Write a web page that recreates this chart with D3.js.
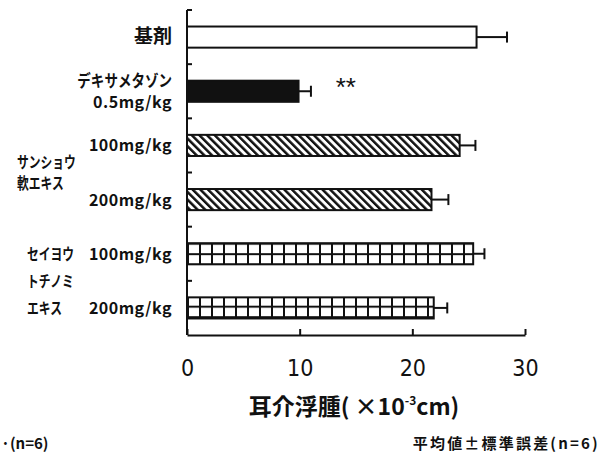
<!DOCTYPE html>
<html>
<head>
<meta charset="utf-8">
<script src="https://cdn.jsdelivr.net/npm/d3@7"></script>
<style>
  body { margin: 0; background: #fff; }
  text { fill: #111; }
  .jp { font-family: "Noto Sans CJK JP", sans-serif; font-weight: 700; }
  .num { font-family: "Liberation Sans Narrow", "DejaVu Sans Condensed", "Liberation Sans", sans-serif; }
</style>
</head>
<body>
<div id="main_svg"></div>
<script>
// data
var groups = ["vehicle", "dexa", "zan100", "zan200", "sei100", "sei200"];
var means = [25.7, 9.9, 24.2, 21.7, 25.4, 21.9];
var errors = [2.7, 1.1, 1.4, 1.5, 1.0, 1.2];
var doseLabels = [["基剤"], ["デキサメタゾン", "0.5mg/kg"], ["100mg/kg"], ["200mg/kg"], ["100mg/kg"], ["200mg/kg"]];
var groupLabels = [
    {from: "zan100", to: "zan200", lines: ["サンショウ", "軟エキス"]},
    {from: "sei100", to: "sei200", lines: ["セイヨウ", "トチノミ", "エキス"]}
];
var xTicks = [0, 10, 20, 30];
var sigGroup = "dexa", sigText = "**", sigAt = 13.2;
var footLeft = "·(n=6)";
var footRight = "平均値±標準誤差(n=6)";

// fill style per bar
var fills = ["#fff", "#111", "url(#hatch)", "url(#hatch)", "url(#grid)", "url(#grid)"];

// set the dimensions and margins of the graph
var margin = {top: 10, right: 83, bottom: 120, left: 187},
    width = 608 - margin.left - margin.right,
    height = 455 - margin.top - margin.bottom;

var x = d3.scaleLinear().domain([0, 30]).range([0, width]);
var y = d3.scaleBand().domain(groups).range([0, height]).paddingInner(0.61).paddingOuter(0.305);

var root = d3.select("#main_svg").append("svg")
    .attr("width", 608).attr("height", 455);

// patterns
var defs = root.append("defs");
var hatch = defs.append("pattern").attr("id", "hatch")
    .attr("patternUnits", "userSpaceOnUse").attr("width", 5.4).attr("height", 5.4)
    .attr("patternTransform", "rotate(-45)");
hatch.append("rect").attr("width", 5.4).attr("height", 5.4).attr("fill", "#fff");
hatch.append("rect").attr("width", 2.5).attr("height", 5.4).attr("fill", "#111");

var grid = defs.append("pattern").attr("id", "grid")
    .attr("patternUnits", "userSpaceOnUse").attr("width", 12).attr("height", 10.5)
    .attr("x", 0).attr("y", y("sei100") + margin.top);
grid.append("rect").attr("width", 12).attr("height", 10.5).attr("fill", "#fff");
grid.append("rect").attr("x", 0).attr("width", 2).attr("height", 10.5).attr("fill", "#111");
grid.append("rect").attr("y", 0).attr("width", 12).attr("height", 2).attr("fill", "#111");

var svg = root.append("g")
    .attr("transform", "translate(" + margin.left + "," + margin.top + ")");

// bars
svg.selectAll(".bar")
    .data(groups)
    .enter().append("rect")
    .attr("class", "bar")
    .attr("x", 0)
    .attr("y", function (d) { return y(d); })
    .attr("width", function (d, i) { return x(means[i]); })
    .attr("height", y.bandwidth())
    .attr("fill", function (d, i) { return fills[i]; })
    .attr("stroke", "#111")
    .attr("stroke-width", 2);

// error bars
var eb = svg.selectAll(".err").data(groups).enter().append("g").attr("class", "err")
    .attr("stroke", "#111").attr("stroke-width", 2);
eb.append("line")
    .attr("x1", function (d, i) { return x(means[i]); })
    .attr("x2", function (d, i) { return x(means[i] + errors[i]); })
    .attr("y1", function (d) { return y(d) + y.bandwidth() / 2; })
    .attr("y2", function (d) { return y(d) + y.bandwidth() / 2; });
eb.append("line")
    .attr("x1", function (d, i) { return x(means[i] + errors[i]); })
    .attr("x2", function (d, i) { return x(means[i] + errors[i]); })
    .attr("y1", function (d) { return y(d) + y.bandwidth() / 2 - 5.5; })
    .attr("y2", function (d) { return y(d) + y.bandwidth() / 2 + 5.5; });

// significance mark
svg.append("text")
    .attr("x", x(sigAt))
    .attr("y", y(sigGroup) + y.bandwidth() / 2 + 5)
    .attr("font-family", "Liberation Sans, sans-serif")
    .attr("font-size", 26)
    .text(sigText);

// y axis with inward ticks at band edges
var edges = groups.map(function (d) { return y(d) - y.step() * y.paddingInner() / 2; });
svg.append("line").attr("x1", 0).attr("x2", 0).attr("y1", 0).attr("y2", height)
    .attr("stroke", "#111").attr("stroke-width", 2);
svg.selectAll(".ytick").data(edges).enter().append("line")
    .attr("x1", 0).attr("x2", 5)
    .attr("y1", function (d) { return d; }).attr("y2", function (d) { return d; })
    .attr("stroke", "#111").attr("stroke-width", 2);

// x axis, ticks inward
var xAxis = svg.append("g")
    .attr("transform", "translate(0," + height + ")")
    .call(d3.axisBottom(x).tickValues(xTicks).tickSizeInner(-6).tickSizeOuter(0).tickPadding(25));
xAxis.select(".domain").attr("stroke", "#111").attr("stroke-width", 2);
xAxis.selectAll(".tick line").attr("stroke", "#111").attr("stroke-width", 2);
xAxis.selectAll(".tick text")
    .attr("class", "num")
    .attr("font-size", 23)
    .attr("fill", "#111");

// axis title
var title = svg.append("text")
    .attr("class", "jp")
    .attr("x", x(15) - 2)
    .attr("y", height + 80)
    .attr("text-anchor", "middle")
    .attr("font-size", 23)
    .attr("font-weight", 500);
title.append("tspan").text("耳介浮腫( ×10");
title.append("tspan").attr("dy", -10).attr("font-size", 12).text("-3");
title.append("tspan").attr("dy", 10).text("cm)");

// katakana in the original is narrow, squeeze those lines
var kana = /[\u30A0-\u30FF]/;
function label(sel, s, px, py, size, anchor, squeeze) {
    var t = sel.append("text")
        .attr("class", "jp")
        .attr("text-anchor", anchor)
        .attr("font-size", size)
        .attr("transform", "translate(" + px + "," + py + ")" + (kana.test(s) ? " scale(" + squeeze + ",1)" : ""))
        .text(s);
    if (!kana.test(s) && /[a-z0-9]/.test(s)) t.attr("letter-spacing", 0.5).attr("font-size", 16);
    return t;
}

// dose labels
groups.forEach(function (d, i) {
    var lines = doseLabels[i];
    var cy = y(d) + y.bandwidth() / 2;
    lines.forEach(function (s, k) {
        label(svg, s, -15, cy + 6 + (k - (lines.length - 1) / 2) * 21, s === "基剤" ? 19 : 16.5, "end", 0.82);
    });
});

// group labels
groupLabels.forEach(function (g, gi) {
    var mid = (y(g.from) + y(g.to) + y.bandwidth()) / 2;
    var gap = gi === 0 ? 21 : 27;
    g.lines.forEach(function (s, k) {
        label(svg, s, gi === 0 ? -170 : -160, mid + 6 + (k - (g.lines.length - 1) / 2) * gap, 15.5, "start", 0.76);
    });
});

// footnotes
root.append("text").attr("class", "jp").attr("x", 1).attr("y", 449)
    .attr("font-size", 15).attr("font-weight", 500).text(footLeft);
root.append("text").attr("class", "jp").attr("x", 600).attr("y", 449)
    .attr("text-anchor", "end").attr("font-size", 15).attr("font-weight", 500)
    .attr("letter-spacing", 2.2).text(footRight);
</script>
</body>
</html>
